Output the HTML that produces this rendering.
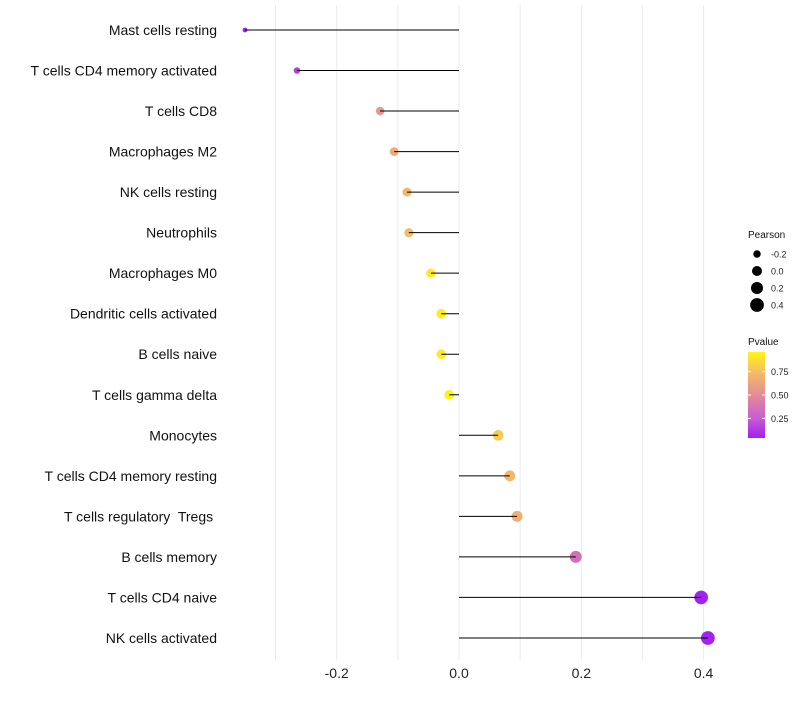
<!DOCTYPE html>
<html><head><meta charset="utf-8"><style>
body{margin:0;background:#fff;font-family:"Liberation Sans",sans-serif;}
svg text{font-family:"Liberation Sans",sans-serif;white-space:pre;}
</style></head><body>
<svg id="chart" width="800" height="700"></svg>
<script>
const categories=["Mast cells resting","T cells CD4 memory activated","T cells CD8","Macrophages M2","NK cells resting","Neutrophils","Macrophages M0","Dendritic cells activated","B cells naive","T cells gamma delta","Monocytes","T cells CD4 memory resting","T cells regulatory  Tregs ","B cells memory","T cells CD4 naive","NK cells activated"];
const pearson=[-0.35,-0.265,-0.129,-0.106,-0.085,-0.082,-0.046,-0.029,-0.029,-0.016,0.064,0.083,0.095,0.191,0.396,0.407];
const pvalues=[0.04,0.15,0.55,0.65,0.72,0.74,0.92,0.93,0.93,0.96,0.8,0.72,0.68,0.35,0.05,0.05];
const xTicks=[-0.2,0,0.2,0.4];
const xTickLabels=["-0.2","0.0","0.2","0.4"];
const gridMinor=[-0.3,-0.1,0.1,0.3];
const sizeLegend=[-0.2,0,0.2,0.4];
const colorLegendTicks=[0.25,0.5,0.75];

const NS="http://www.w3.org/2000/svg";
const svg=document.getElementById('chart');
function mk(t,a,parent){const e=document.createElementNS(NS,t);for(const k in a)e.setAttribute(k,a[k]);(parent||svg).appendChild(e);return e;}
const xs=v=>459+v*611.5;
const ys=i=>30+i*40.53;
const rs=v=>Math.sqrt(Math.max(4,25+55*v));
const stops=[[0.04,[160,32,240]],[0.25,[200,92,210]],[0.5,[228,140,150]],[0.75,[244,190,100]],[0.96,[255,245,20]]];
function col(p){if(p<=stops[0][0])return 'rgb('+stops[0][1]+')';for(let i=1;i<stops.length;i++){if(p<=stops[i][0]){const a=stops[i-1],b=stops[i],t=(p-a[0])/(b[0]-a[0]);return 'rgb('+a[1].map((c,j)=>Math.round(c+(b[1][j]-c)*t)).join(',')+')';}}return 'rgb('+stops[stops.length-1][1]+')';}

gridMinor.concat(xTicks).forEach(v=>{const l=mk('line',{x1:xs(v),x2:xs(v),y1:5,y2:660,stroke:'#ebebeb','stroke-width':1});

});
xTicks.forEach((v,i)=>{const t=mk('text',{x:xs(v),y:678,'text-anchor':'middle','font-size':14,fill:'#222'});t.textContent=xTickLabels[i];

});
categories.forEach((c,i)=>{
 const t=mk('text',{x:217,y:ys(i)+5,'text-anchor':'end','font-size':14,fill:'#111'});t.textContent=c;
 
 
 const pt=mk('circle',{cx:xs(pearson[i]),cy:ys(i),r:rs(pearson[i]),fill:col(pvalues[i])});
 
 
 const ln=mk('line',{x1:xs(0),x2:xs(pearson[i]),y1:ys(i),y2:ys(i),stroke:'#000','stroke-width':1});
 
 
});
let t=mk('text',{x:748,y:238,'font-size':10,fill:'#111'});t.textContent='Pearson';


sizeLegend.forEach((v,i)=>{const y=254+i*17;
 const c=mk('circle',{cx:757,cy:y,r:rs(v),fill:'#000'});
 
 
 const l=mk('text',{x:771,y:y+3.5,'font-size':9,fill:'#222'});l.textContent=v.toFixed(1);
 
 });
t=mk('text',{x:748,y:345,'font-size':10,fill:'#111'});t.textContent='Pvalue';


const defs=mk('defs',{});const g=mk('linearGradient',{id:'pg',x1:0,y1:1,x2:0,y2:0},defs);
stops.forEach(s=>{const p=(s[0]-0.04)/0.92;mk('stop',{offset:p,'stop-color':'rgb('+s[1]+')'},g);});
const bar=mk('rect',{x:748,y:352,width:17,height:86,fill:'url(#pg)'});


colorLegendTicks.forEach(v=>{const y=438-(v-0.04)/0.92*86;
 mk('line',{x1:748,x2:751,y1:y,y2:y,stroke:'#fff','stroke-width':1});mk('line',{x1:762,x2:765,y1:y,y2:y,stroke:'#fff','stroke-width':1});
 const l=mk('text',{x:771,y:y+3.5,'font-size':9,fill:'#222'});l.textContent=v.toFixed(2);
 
 });
</script>
</body></html>
